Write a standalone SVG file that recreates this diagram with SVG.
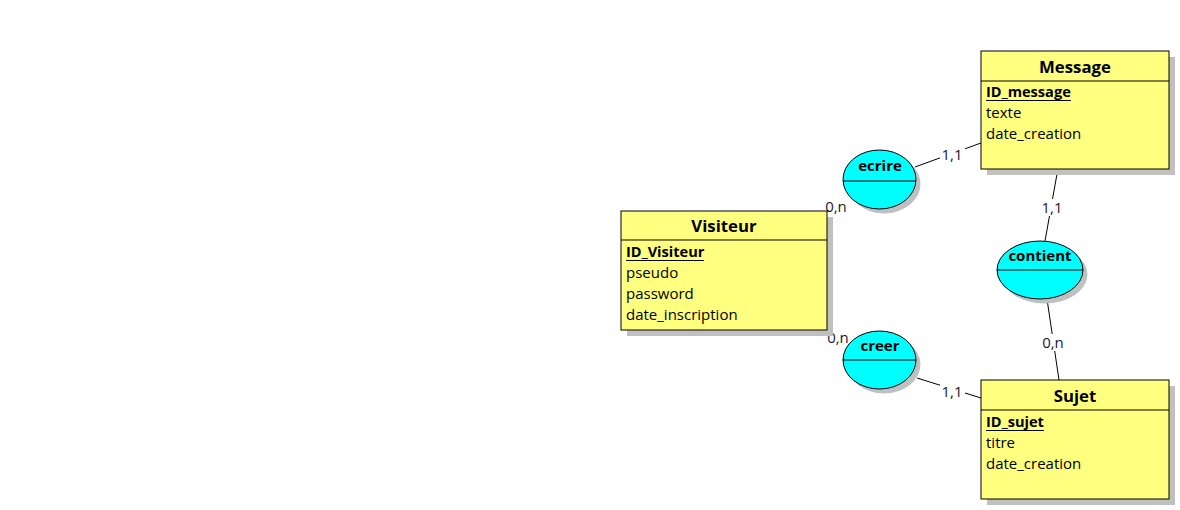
<svg xmlns="http://www.w3.org/2000/svg" width="1180" height="510" viewBox="0 0 1180 510">
<style>
.bg{fill:#ffffff}
.shadow{fill:#c0c0c0;stroke:none}
.ent{fill:#ffff80;stroke:#000;stroke-width:1}
.rel{fill:#00ffff;stroke:#000;stroke-width:1}
.div{stroke:#000;stroke-width:1;fill:none}
.uline{stroke:#000;stroke-width:1.2;fill:none}
.link{stroke:#000;stroke-width:1;fill:none}
.title{font-family:"Open Sans","Noto Sans","DejaVu Sans",sans-serif;font-weight:bold;font-size:16.8px;fill:#000;text-anchor:middle}
.rtitle{font-family:"Open Sans","Noto Sans","DejaVu Sans",sans-serif;font-weight:bold;font-size:15px;fill:#000;text-anchor:middle}
.key{font-family:"Open Sans","Noto Sans","DejaVu Sans",sans-serif;font-weight:bold;font-size:14.6px;fill:#000}
.attr{font-family:"Open Sans","Noto Sans","DejaVu Sans",sans-serif;font-size:15px;fill:#000}
.card{font-family:"Open Sans","Noto Sans","DejaVu Sans",sans-serif;font-size:15px;fill:#1a1a2a;text-anchor:middle}
.cbg{fill:#ffffff;stroke:none}
</style>
<rect class="bg" x="0" y="0" width="1180" height="510"/>
<g id="connectors">
<line class="link" x1="850" y1="197" x2="827" y2="211"/>
<line class="link" x1="915" y1="167" x2="981" y2="143"/>
<line class="link" x1="850" y1="345" x2="827" y2="330"/>
<line class="link" x1="917" y1="378" x2="981" y2="398"/>
<line class="link" x1="1057" y1="174" x2="1045" y2="241"/>
<line class="link" x1="1047" y1="299" x2="1059" y2="380"/>
<rect class="cbg" x="940" y="146" width="25" height="17"/>
<text class="card" x="952" y="160">1,1</text>
<rect class="cbg" x="940" y="383" width="25" height="17"/>
<text class="card" x="952" y="397">1,1</text>
<rect class="cbg" x="1040" y="199" width="25" height="17"/>
<text class="card" x="1052" y="213">1,1</text>
<rect class="cbg" x="1041" y="334" width="25" height="17"/>
<text class="card" x="1053" y="348">0,n</text>
<rect class="cbg" x="826" y="194" width="24" height="16"/>
<text class="card" x="836" y="212">0,n</text>
<rect class="cbg" x="828" y="331" width="22" height="14"/>
<text class="card" x="838" y="343">0,n</text>
</g>
<g id="Visiteur">
<rect class="shadow" x="627" y="217" width="206" height="119"/>
<rect class="ent" x="621" y="211" width="206" height="119"/>
<line class="div" x1="621" y1="240" x2="827" y2="240"/>
<text class="title" x="724" y="232">Visiteur</text>
<text class="key" x="626" y="257">ID_Visiteur</text>
<line class="uline" x1="626" y1="260.5" x2="704" y2="260.5"/>
<text class="attr" x="626" y="278">pseudo</text>
<text class="attr" x="626" y="299">password</text>
<text class="attr" x="626" y="320">date_inscription</text>
</g>
<g id="Message">
<rect class="shadow" x="987" y="57" width="188" height="118"/>
<rect class="ent" x="981" y="51" width="188" height="118"/>
<line class="div" x1="981" y1="81" x2="1169" y2="81"/>
<text class="title" x="1075" y="73">Message</text>
<text class="key" x="986" y="97">ID_message</text>
<line class="uline" x1="986" y1="100.5" x2="1071" y2="100.5"/>
<text class="attr" x="986" y="118">texte</text>
<text class="attr" x="986" y="139">date_creation</text>
</g>
<g id="Sujet">
<rect class="shadow" x="987" y="386" width="188" height="119"/>
<rect class="ent" x="981" y="380" width="188" height="119"/>
<line class="div" x1="981" y1="410" x2="1169" y2="410"/>
<text class="title" x="1075" y="402">Sujet</text>
<text class="key" x="986" y="427">ID_sujet</text>
<line class="uline" x1="986" y1="430.5" x2="1044" y2="430.5"/>
<text class="attr" x="986" y="448">titre</text>
<text class="attr" x="986" y="469">date_creation</text>
</g>
<g id="ecrire">
<ellipse class="shadow" cx="884" cy="184" rx="36.5" ry="29.5"/>
<ellipse class="rel" cx="879.5" cy="179.5" rx="36.5" ry="29.5"/>
<line class="div" x1="843" y1="181" x2="916" y2="181"/>
<text class="rtitle" x="880" y="171">ecrire</text>
</g>
<g id="creer">
<ellipse class="shadow" cx="884" cy="364.5" rx="36.5" ry="29"/>
<ellipse class="rel" cx="879.5" cy="360" rx="36.5" ry="29"/>
<line class="div" x1="843" y1="360" x2="916" y2="360"/>
<text class="rtitle" x="880" y="351">creer</text>
</g>
<g id="contient">
<ellipse class="shadow" cx="1044.5" cy="274.5" rx="43" ry="29"/>
<ellipse class="rel" cx="1040" cy="270" rx="43" ry="29"/>
<line class="div" x1="997" y1="270" x2="1083" y2="270"/>
<text class="rtitle" x="1040" y="261">contient</text>
</g>
</svg>
